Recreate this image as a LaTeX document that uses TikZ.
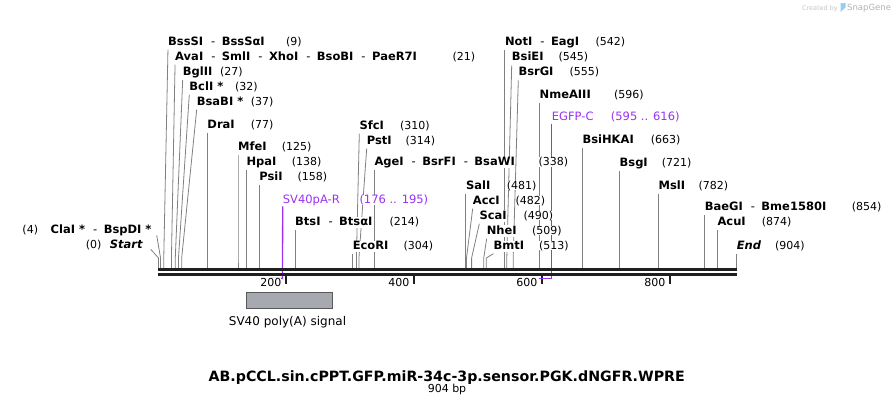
\documentclass[tikz,border=0pt]{standalone}
\usepackage{fontspec}
\setmainfont{DejaVu Sans}
\usetikzlibrary{backgrounds}
\definecolor{sitegray}{RGB}{128,128,128}
\definecolor{primerc}{RGB}{155,50,240}
\definecolor{featfill}{RGB}{166,170,176}
\definecolor{logoblue}{RGB}{150,205,240}
\newcommand{\namesep}{\hspace{8pt}{\mdseries -}\hspace{6.5pt}}
\newcommand{\bpx}[1]{158+0.64*#1}

\begin{document}
\begin{tikzpicture}[x=1pt,y=-1pt,
  site/.style={draw=sitegray,line width=0.8pt},
  enz/.style={anchor=base west,inner sep=0pt,text depth=2.5pt,fill=white,font=\fontsize{11.5}{13}\selectfont\bfseries},
  num/.style={anchor=base west,inner sep=0pt,fill=white,font=\fontsize{11}{13}\selectfont},
  primerlab/.style={anchor=base west,inner sep=0pt,fill=white,text=primerc,font=\fontsize{11.5}{13}\selectfont},
  primer/.style={draw=primerc,line width=1.3pt},
  backbone/.style={draw=black!88,line width=2.6pt},
  tick/.style={draw=black!88,line width=2pt}]
  \useasboundingbox (0,0) rectangle (895,408);

  % watermark
  \node[anchor=base east,inner sep=0pt,text=gray!45,font=\fontsize{6.5}{7}\selectfont] (cby) at (838,10) {Created by};
  \fill[logoblue] (840.5,12) -- (840.5,3) -- (845.5,3) -- (845.5,7.5) -- cycle;
  \node[anchor=base west,inner sep=0pt,text=gray!60,font=\fontsize{8.5}{9}\selectfont] (sg) at (847,10.5) {SnapGene};

  % sequence
  \coordinate (seqa) at (158,269.6);
  \coordinate (seqb) at (737,269.6);
  \draw[backbone] (seqa) -- (seqb);
  \draw[backbone] ([yshift=-5pt]seqa) -- ([yshift=-5pt]seqb);
  \foreach \t in {200,400,600,800} {
    \coordinate (t\t) at ({\bpx{\t}},275.5);
    \begin{pgfonlayer}{background}
      \draw[tick] (t\t) -- ++(0,8);
    \end{pgfonlayer}
    \node[num,anchor=base east] (tl\t) at ([xshift=-4.5pt,yshift=-11pt]t\t) {\t};
  }

  % primers
  \node[primerlab] (svp) at (282.7,203.3) {SV40pA-R};
  \node[primerlab] (svpn) at (359.3,203.3) {(176 .. 195)};
  \coordinate (sva) at (282.5,278.5);
  \coordinate (svb) at ({\bpx{176}},278.5);
  \node[primerlab] (egp) at (551.7,120.7) {EGFP-C};
  \node[primerlab] (egpn) at (610.7,120.7) {(595 .. 616)};
  \coordinate (ega) at (551.7,278.5);
  \coordinate (egb) at ({\bpx{595}},278.5);
  \begin{pgfonlayer}{background}
    \draw[primer] ([yshift=-3pt]svp.base west) -- (sva) -- (svb);
    \draw[primer] ([yshift=-3pt]egp.base west) -- (ega) -- (egb);
  \end{pgfonlayer}

  % enzyme sites
  \foreach \s/\dx/\by/\nx/\name/\num in {
    9/4.2/45/286/{BssSI\namesep BssSαI}/9,
    21/3.6/60/452.3/{AvaI\namesep SmlI\namesep XhoI\namesep BsoBI\namesep PaeR7I}/21,
    27/7.4/75.3/220/{BglII}/27,
    32/10.8/90/235/{BclI *}/32,
    37/15/105/250.7/{BsaBI *}/37,
    77/0/128.7/250.7/{DraI}/77,
    125/0/150.7/281.7/{MfeI}/125,
    138/0/165.7/291.7/{HpaI}/138,
    158/0/180.7/297.3/{PsiI}/158,
    214/0/225.7/389.3/{BtsI\namesep BtsαI}/214,
    304/0/249/403.3/{EcoRI}/304,
    310/2.9/129/400/{SfcI}/310,
    314/7.7/144/405.3/{PstI}/314,
    338/0/165.7/538.3/{AgeI\namesep BsrFI\namesep BsaWI}/338,
    481/0/189/506.7/{SalI}/481,
    482/6.2/204/515.3/{AccI}/482,
    490/7.7/219/523.3/{ScaI}/490,
    509/2.9/234/532/{NheI}/509,
    513/7/249/539/{BmtI}/513,
    542/0/45.7/595.3/{NotI\namesep EagI}/542,
    545/4.9/60.7/558.3/{BsiEI}/545,
    555/5.1/75.7/569.3/{BsrGI}/555,
    596/0/98.3/614/{NmeAIII}/596,
    663/0/143.3/650.7/{BsiHKAI}/663,
    721/0/166.7/661.7/{BsgI}/721,
    782/0/189/698.3/{MslI}/782,
    854/0/210.7/851.7/{BaeGI\namesep Bme1580I}/854,
    874/0/225.7/761.7/{AcuI}/874,
    904/0/249/775/{\itshape End}/904} {
    \pgfmathsetmacro\sx{\bpx{\s}}
    \node[enz] (e\s) at (\sx+\dx,\by) {\name};
    \node[num] (n\s) at (\nx,\by) {(\num)};
    \coordinate (k\s) at (\sx,258);
    \coordinate (b\s) at (\sx,268);
    \begin{pgfonlayer}{background}
      \draw[site] ([yshift=-2pt]e\s.south west) -- (k\s) -- (b\s);
    \end{pgfonlayer}
  }

  % sites labelled on the left
  \node[enz,anchor=base east] (e4) at (151.7,233.3) {ClaI *\namesep BspDI *};
  \node[num] (n4) at (22.3,233.3) {(4)};
  \coordinate (k4) at ({\bpx{4}},258);
  \coordinate (b4) at ({\bpx{4}},268);
  \draw[site] ([xshift=5pt,yshift=-2pt]e4.base east) -- (k4) -- (b4);
  \node[enz,anchor=base east] (e0) at (142.7,248.3) {\itshape Start};
  \node[num] (n0) at (85.7,248.3) {(0)};
  \coordinate (k0) at (158.5,258);
  \coordinate (b0) at (158.5,268);
  \draw[site] ([xshift=8pt,yshift=-1pt]e0.base east) -- (k0) -- (b0);

  % feature
  \node[draw=black!65,fill=featfill,line width=0.8pt,minimum width=86.7pt,minimum height=16pt,inner sep=0pt] (polya) at (289.3,300.3) {};
  \node[anchor=base,inner sep=0pt,font=\fontsize{12}{14}\selectfont] (polyalab) at (287.5,325.7) {SV40 poly(A) signal};

  % title
  \node[anchor=base,inner sep=0pt,font=\fontsize{14.2}{16}\selectfont\bfseries] (title) at (446.7,381.7) {AB.pCCL.sin.cPPT.GFP.miR-34c-3p.sensor.PGK.dNGFR.WPRE};
  \node[anchor=base,inner sep=0pt,font=\fontsize{11}{12}\selectfont] (len) at (447,392.5) {904 bp};
\end{tikzpicture}
\end{document}
